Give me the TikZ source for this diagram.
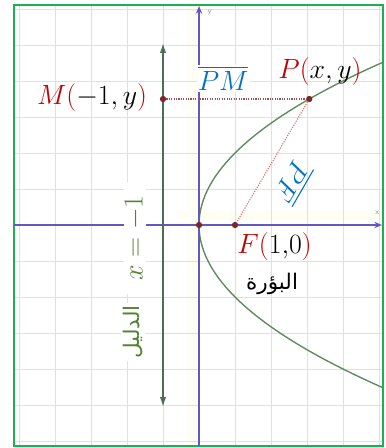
\RequirePackage{fix-cm}
\documentclass[tikz,border=0pt]{standalone}
\usepackage{fontspec}
\usepackage{amsmath}
\usetikzlibrary{arrows.meta}
\TeXXeTstate=1
\newfontfamily\arabicfont[Script=Arabic]{DejaVu Sans}
\definecolor{rojo}{HTML}{C00000}
\definecolor{azul}{HTML}{0070C0}
\definecolor{verdetexto}{HTML}{548235}
\definecolor{colmarco}{HTML}{1DB052}
\definecolor{colejes}{RGB}{100,88,190}
\definecolor{colcurva}{RGB}{95,140,95}
\definecolor{colrecta}{RGB}{75,110,85}
\definecolor{colpunto}{RGB}{125,40,40}

\begin{document}
\begin{tikzpicture}[
        punto/.style={circle, fill=colpunto, inner sep=0pt, minimum size=5pt},
        eje/.style={draw=colejes, line width=1.4pt, -{Stealth[length=6pt, width=5pt]}},
        curva/.style={draw=colcurva, line width=1.1pt},
        directriz/.style={draw=colrecta, line width=1.3pt, {Latex[length=8pt, width=5pt]}-{Latex[length=8pt, width=5pt]}},
        punteada/.style={draw=colpunto!80, line width=0.9pt, densely dotted},
        etiqueta/.style={font=\fontsize{22}{26}\selectfont, inner sep=1pt},
        arabe/.style={font=\fontsize{17}{20}\selectfont\arabicfont, inner sep=2pt},
        mini/.style={font=\fontsize{6}{7}\selectfont\sffamily, text=black!45, inner sep=0pt}]
    \useasboundingbox (-5.528,-6.194) rectangle (5.167,6.25);
    \begin{scope}
        \clip (-5.139,-6.139) rectangle (5.111,6.111);
        \fill[yellow!5] (-0.33,-6.2) rectangle (-0.08,6.2);
        \fill[yellow!5] (-0.6,0.15) rectangle (5.2,0.38);
        \draw[black!12, line width=0.6pt] (-6,-7) grid (6,7);
        \draw[curva] plot[domain=-4.7:4.7, samples=80] ({\x*\x/4}, \x);
    \end{scope}
    \draw[colmarco, line width=1.6pt] (-5.139,-6.139) rectangle (5.111,6.111);
    \coordinate (xizq) at (-5.139,0);
    \coordinate (xder) at (5.08,0);
    \coordinate (yabajo) at (0,-6.139);
    \coordinate (yarriba) at (0,6.08);
    \draw[eje] (xizq) -- (xder);
    \draw[eje] (yabajo) -- (yarriba);
    \node[mini] (lblx) at (4.95,0.33) {x};
    \node[mini] (lbly) at (0.3,5.9) {y};
    \coordinate (dsup) at (-1,5.06);
    \coordinate (dinf) at (-1,-5.06);
    \draw[directriz] (dinf) -- (dsup);
    \node[punto] (O) at (0,0) {};
    \node[punto] (F) at (1,0) {};
    \node[punto] (P) at (3.0625,3.5) {};
    \node[punto] (M) at (-1,3.5) {};
    \draw[punteada] (M) -- (P);
    \draw[punteada, draw=rojo!55] (P) -- (F);
    \node[etiqueta] (lblM) at (-2.97,3.53) {$\textcolor{rojo}{M(}{-1},y\textcolor{rojo}{)}$};
    \node[etiqueta] (lblP) at (3.36,4.25) {$\textcolor{rojo}{P(}x,y\textcolor{rojo}{)}$};
    \node[etiqueta] (lblF) at (2.1,-0.61) {$\textcolor{rojo}{F(}1{,}0\textcolor{rojo}{)}$};
    \node[etiqueta, fill=white, text=azul] (lblPM) at (0.67,4.08) {$\overline{PM}$};
    \node[etiqueta, text=azul, rotate=240, inner sep=0pt] (lblPF) at (2.63,1.17) {$\overline{PF}$};
    \node[arabe] (foco) at (2.03,-1.64) {\beginR البؤرة\endR};
    \node[etiqueta, fill=white, text=verdetexto, rotate=90, minimum width=3.1cm] (lbldir) at (-1.78,-0.36) {$x=-1$};
    \node[arabe, fill=white, text=verdetexto, rotate=90] (dir) at (-1.83,-2.97) {\beginR الدليل\endR};
\end{tikzpicture}
\end{document}
